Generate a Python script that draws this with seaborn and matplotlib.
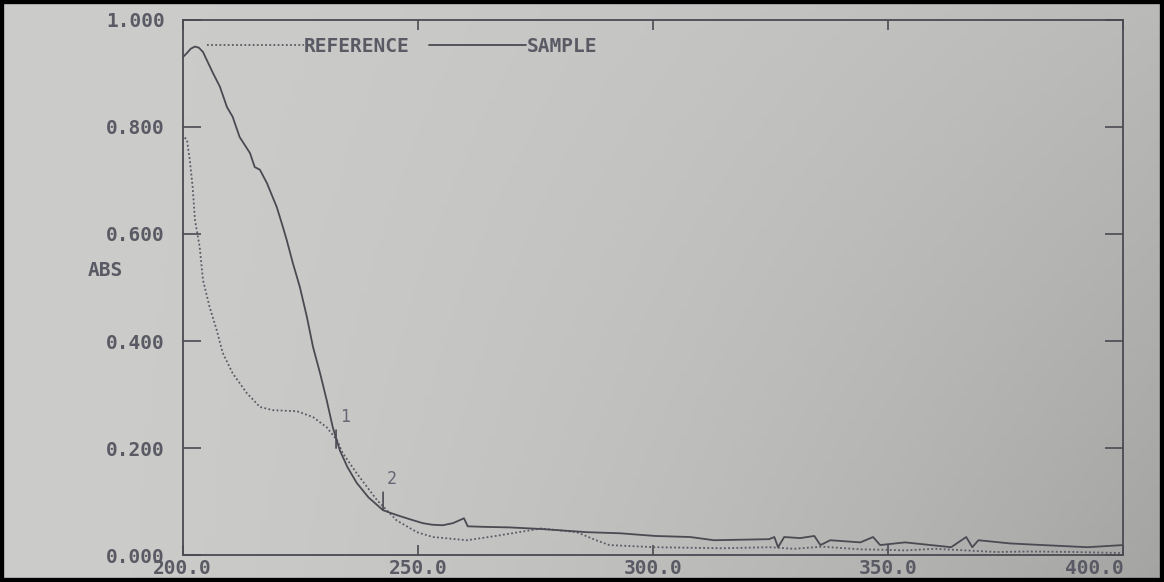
import numpy as np
import pandas as pd
import seaborn as sns
import matplotlib.pyplot as plt
from matplotlib.patches import Rectangle

# sample spectrum (solid line)
sample_wl = [200.0, 200.9, 201.7, 202.6, 203.4, 204.3, 205.1, 206.4, 207.9, 209.4,
             210.6, 212.1, 214.3, 215.3, 216.4, 217.9, 220.0, 221.3, 222.1, 223.4,
             224.9, 226.4, 227.7, 229.2, 230.6, 231.9, 233.4, 235.0, 237.0, 239.5,
             242.6, 245.5, 248.0, 251.0, 253.0, 255.3, 257.5, 259.8, 260.6, 264.0,
             269.4, 276.2, 286.0, 293.0, 300.4, 307.9, 313.0, 324.7, 325.8, 326.6,
             327.9, 331.3, 334.3, 335.6, 337.7, 344.1, 346.8, 348.3, 353.6, 363.4,
             366.6, 367.9, 369.2, 376.0, 382.8, 392.4, 400.0]
sample_abs = [0.930, 0.938, 0.946, 0.950, 0.948, 0.940, 0.925, 0.901, 0.875, 0.837,
              0.819, 0.781, 0.751, 0.725, 0.720, 0.695, 0.650, 0.613, 0.589, 0.546,
              0.501, 0.445, 0.389, 0.340, 0.290, 0.239, 0.196, 0.165, 0.135, 0.108,
              0.084, 0.075, 0.068, 0.060, 0.057, 0.056, 0.060, 0.069, 0.054, 0.053,
              0.052, 0.049, 0.043, 0.041, 0.036, 0.034, 0.028, 0.030, 0.034, 0.015,
              0.034, 0.032, 0.036, 0.019, 0.028, 0.024, 0.034, 0.019, 0.024, 0.015,
              0.034, 0.015, 0.028, 0.022, 0.019, 0.015, 0.019]

# reference spectrum (dotted line)
ref_wl = [200.4, 200.9, 201.5, 202.1, 202.6, 203.6, 204.3, 205.7, 207.2, 208.5,
          210.6, 213.6, 216.4, 219.1, 221.5, 224.3, 227.7, 230.6, 232.8, 234.0,
          237.0, 241.3, 245.5, 249.8, 253.2, 256.8, 260.4, 266.6, 276.2, 283.8,
          287.9, 290.7, 300.4, 314.9, 324.7, 330.0, 336.0, 344.1, 350.0, 353.6,
          360.0, 373.0, 380.0, 390.0, 400.0]
ref_abs = [0.780, 0.776, 0.738, 0.688, 0.626, 0.576, 0.514, 0.464, 0.421, 0.378,
           0.340, 0.303, 0.277, 0.271, 0.270, 0.269, 0.258, 0.239, 0.215, 0.191,
           0.153, 0.103, 0.065, 0.043, 0.034, 0.031, 0.028, 0.036, 0.050, 0.043,
           0.028, 0.019, 0.015, 0.013, 0.015, 0.012, 0.016, 0.011, 0.010, 0.009,
           0.012, 0.006, 0.007, 0.006, 0.004]

# peak markers
peak_labels = ['1', '2']
peak_wl = [232.6, 242.6]
peak_abs = [0.200, 0.084]

x_ticks = [200, 250, 300, 350, 400]
y_ticks = [0.0, 0.2, 0.4, 0.6, 0.8, 1.0]

sns.set_theme(style='white')
plt.rcParams['font.family'] = ['DejaVu Sans Mono', 'DejaVu Sans']

ink = '#4a4a52'
txt = '#5a5a64'

fig = plt.figure(figsize=(11.64, 5.82), dpi=100)

# photographed paper background
bg = fig.add_axes([0, 0, 1, 1], zorder=-10)
gx, gy = np.meshgrid(np.linspace(0, 1, 200), np.linspace(0, 1, 100))
shade = 204 - 40 * gx ** 1.7 * (0.45 + 0.55 * gy)
rgb = np.dstack([shade, shade, shade - 1]) / 255.0
bg.imshow(rgb, aspect='auto', extent=[0, 1, 0, 1], origin='upper')
bg.axis('off')

ax = fig.add_axes([0.157, 0.046, 0.808, 0.920])
ax.set_zorder(1)
ax.patch.set_visible(False)

ref_df = pd.DataFrame({'wl': ref_wl, 'abs': ref_abs})
smp_df = pd.DataFrame({'wl': sample_wl, 'abs': sample_abs})

sns.lineplot(data=ref_df, x='wl', y='abs', ax=ax, color='#5a5a64',
             linewidth=1.3, linestyle=(0, (1, 1.3)), label='REFERENCE')
sns.lineplot(data=smp_df, x='wl', y='abs', ax=ax, color=ink,
             linewidth=1.3, label='SAMPLE')

# peak marks
for lab, wl, a in zip(peak_labels, peak_wl, peak_abs):
    ax.annotate('', xy=(wl, a), xytext=(0, 13), textcoords='offset points',
                arrowprops=dict(arrowstyle='-', color=ink, lw=1.2,
                                shrinkA=0, shrinkB=0))
    ax.annotate(lab, xy=(wl, a), xytext=(3, 16), textcoords='offset points',
                fontsize=12, color='#666676', ha='left', va='bottom')

ax.set_xlim(200, 400)
ax.set_ylim(0, 1.0)
ax.set_xticks(x_ticks)
ax.set_yticks(y_ticks)
ax.set_xticklabels([f'{v:.1f}' for v in x_ticks])
ax.set_yticklabels([f'{v:.3f}' for v in y_ticks])
ax.get_xticklabels()[-1].set_ha('right')

ax.tick_params(axis='x', which='major', direction='in', length=7.5, width=1.2,
               color=ink, top=True, bottom=True, pad=3, labelsize=14,
               labelcolor=txt)
ax.tick_params(axis='y', which='major', direction='in', length=13, width=1.2,
               color=ink, left=True, right=True, pad=13, labelsize=14,
               labelcolor=txt)
for lbl in ax.get_xticklabels() + ax.get_yticklabels():
    lbl.set_fontweight('bold')

for s in ax.spines.values():
    s.set_visible(True)
    s.set_color(ink)
    s.set_linewidth(1.3)

ax.set_xlabel('')
ax.set_ylabel('ABS', rotation=0, fontsize=14, fontweight='bold', color=txt,
              ha='left', va='center')
ax.yaxis.set_label_coords(-0.101, 0.531)

leg = ax.legend(loc='center left', bbox_to_anchor=(0.0255, 0.951), ncol=2,
                frameon=False, borderpad=0, borderaxespad=0, handlelength=5.0,
                handletextpad=0.0, columnspacing=1.0,
                prop={'family': 'DejaVu Sans Mono', 'size': 14, 'weight': 'bold'})
for t in leg.get_texts():
    t.set_color(txt)

# dark photo border
fig.add_artist(Rectangle((0, 0), 1, 1, transform=fig.transFigure, fill=False,
                         ec='black', lw=6, zorder=100))

fig.savefig('out.png', dpi=100)
